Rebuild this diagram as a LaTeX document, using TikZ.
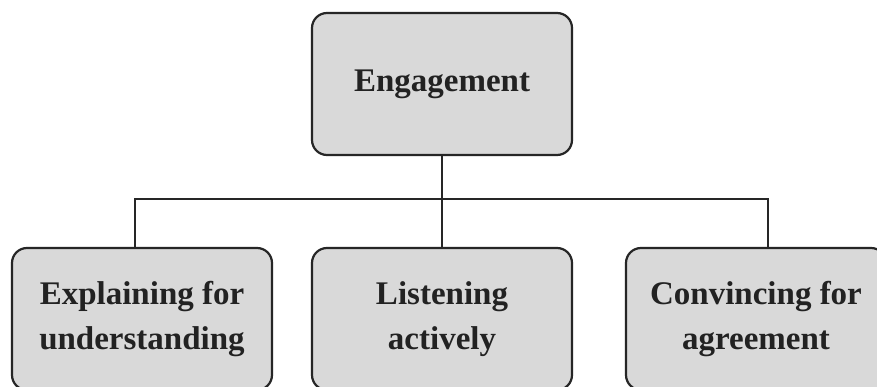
\documentclass[tikz,border=0pt]{standalone}
\usepackage{fontspec}
\setmainfont{Liberation Serif}
\begin{document}
\begin{tikzpicture}[x=1pt,y=-1pt,
  box/.style={draw=boxline, line width=2.2pt, fill=boxfill, rounded corners=15pt,
    minimum width=260pt, minimum height=142pt, inner sep=0pt,
    align=center, text=ink,
    font=\fontsize{33}{45}\selectfont\bfseries},
  link/.style={draw=boxline, line width=2pt}]
\definecolor{boxfill}{HTML}{D9D9D9}
\definecolor{boxline}{HTML}{262626}
\definecolor{ink}{HTML}{222222}
\useasboundingbox[fill=white] (0,0) rectangle (877,387);

% root and the three branches
\node[box] (top)   at (442,84)  {Engagement};
\node[box] (left)  at (142,319) {Explaining for\\understanding};
\node[box] (mid)   at (442,319) {Listening\\actively};
\node[box] (right) at (756,319) {Convincing for\\agreement};

% junction points on the horizontal bar
\coordinate (jl) at (135,199);
\coordinate (jr) at (768,199);

\draw[link] (top.south) -- (mid.north);
\draw[link] (jl |- left.north) -- (jl) -- (jr) -- (jr |- right.north);
\end{tikzpicture}
\end{document}
